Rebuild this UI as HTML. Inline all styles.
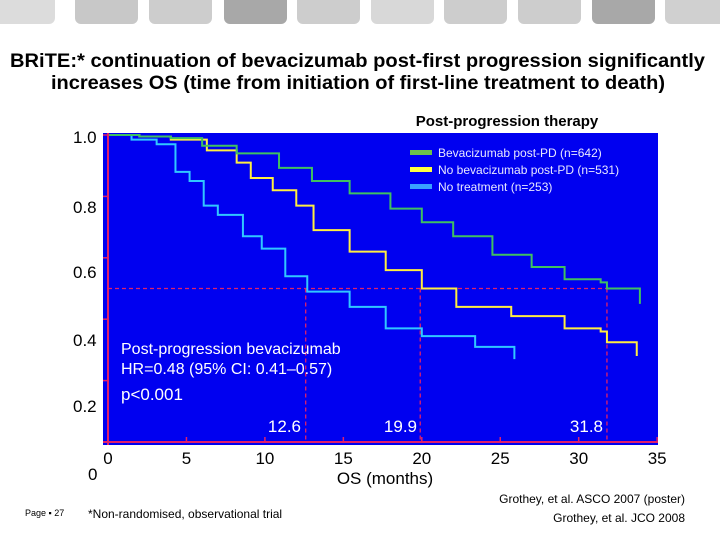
<!DOCTYPE html>
<html><head><meta charset="utf-8"><style>
body{margin:0;width:720px;height:540px;background:#fff;overflow:hidden;font-family:"Liberation Sans",sans-serif}
svg{display:block}
</style></head><body>
<svg id="c" width="720" height="540" viewBox="0 0 720 540" font-family="Liberation Sans, sans-serif">
<g id="tabs"></g>
<text x="10" y="67" font-size="19" font-weight="bold" textLength="695" lengthAdjust="spacingAndGlyphs">BRiTE:* continuation of bevacizumab post-first progression significantly</text>
<text x="51" y="89" font-size="19" font-weight="bold" textLength="614" lengthAdjust="spacingAndGlyphs">increases OS (time from initiation of first-line treatment to death)</text>
<text x="507" y="126" font-size="15" font-weight="bold" text-anchor="middle">Post-progression therapy</text>
<rect x="103" y="133" width="555" height="312" fill="#0000f0"/>
<g id="grid"></g>
<g id="series"></g>
<g id="axes"></g>
<g>
<rect x="410" y="150" width="22" height="5" fill="#6cc24a"/>
<text x="438" y="157" font-size="12" fill="#e8e8ff">Bevacizumab post-PD (n=642)</text>
<rect x="410" y="167" width="22" height="5" fill="#ffff40"/>
<text x="438" y="174" font-size="12" fill="#e8e8ff">No bevacizumab post-PD (n=531)</text>
<rect x="410" y="184" width="22" height="5" fill="#3aa0ff"/>
<text x="438" y="191" font-size="12" fill="#e8e8ff">No treatment (n=253)</text>
</g>
<g fill="#fff">
<text x="121" y="354" font-size="16">Post-progression bevacizumab</text>
<text x="121" y="374" font-size="16">HR=0.48 (95% CI: 0.41–0.57)</text>
<text x="121" y="400" font-size="17">p&lt;0.001</text>
</g>
<g fill="#fff" font-size="17" text-anchor="end">
<text x="301" y="432">12.6</text><text x="417" y="432">19.9</text><text x="603" y="432">31.8</text>
</g>
<g font-size="17">
<text x="73" y="143">1.0</text><text x="73" y="213">0.8</text><text x="73" y="278">0.6</text><text x="73" y="346">0.4</text><text x="73" y="412">0.2</text>
<text x="88" y="480">0</text>
</g>
<g id="xlabels" font-size="17" text-anchor="middle"></g>
<text x="385" y="484" font-size="17" text-anchor="middle">OS (months)</text>
<text x="25" y="516" font-size="9">Page ▪ 27</text>
<text x="88" y="518" font-size="12">*Non-randomised, observational trial</text>
<text x="685" y="503" font-size="12" text-anchor="end">Grothey, et al. ASCO 2007 (poster)</text>
<text x="685" y="522" font-size="12" text-anchor="end">Grothey, et al. JCO 2008</text>
</svg>
<script>
const xTicks=[0,5,10,15,20,25,30,35];
const yTicks=[0,0.2,0.4,0.6,0.8,1.0];
const medians=[12.6,19.9,31.8];
const bevMonths=[0,2,4,6,8.2,10.9,13,15.4,18,20,22,24.5,27,29.1,31.4,31.8,33,33.9];
const bevSurv=[1,0.995,0.99,0.965,0.94,0.893,0.85,0.81,0.76,0.716,0.67,0.61,0.57,0.53,0.52,0.5,0.5,0.45];
const nobevMonths=[0,2,4,6.3,8.2,9.1,10.5,12,13.1,15.4,17.7,20,22.2,25.7,29.1,31.4,31.8,33.7,33.7];
const nobevSurv=[1,0.995,0.985,0.95,0.91,0.86,0.82,0.77,0.69,0.62,0.56,0.5,0.44,0.41,0.37,0.36,0.325,0.325,0.28];
const notxMonths=[0,1.5,3.1,4.3,5.2,6.1,7,8.6,9.8,11.3,12.7,15.4,17.7,20,23.4,25.9];
const notxSurv=[1,0.985,0.97,0.88,0.85,0.77,0.74,0.67,0.63,0.54,0.49,0.44,0.37,0.345,0.31,0.27];
const X=m=>108+m*15.69, Y=s=>442-s*307;
const NS='http://www.w3.org/2000/svg';
function mk(t,a,p){const e=document.createElementNS(NS,t);for(const k in a)e.setAttribute(k,a[k]);p.appendChild(e);return e;}
const tabs=document.getElementById('tabs');
const tabX=[-8,75,149,224,297,371,444,518,592,665];
const tabC=['#dcdcdc','#c8c8c8','#cdcdcd','#a8a8a8','#cdcdcd','#d8d8d8','#cdcdcd','#cdcdcd','#a8a8a8','#d0d0d0'];
tabX.forEach((x,i)=>{const r=mk('rect',{x:x,y:-8,width:63,height:32,rx:6,fill:tabC[i]},tabs);

});
const g=document.getElementById('grid');
const hl=mk('line',{x1:X(0),y1:Y(0.5),x2:X(medians[2]),y2:Y(0.5),stroke:'#e0206a','stroke-width':1.3,'stroke-dasharray':'4,3'},g);


medians.forEach(m=>{const l=mk('line',{x1:X(m),y1:Y(0.5),x2:X(m),y2:Y(0),stroke:'#e0206a','stroke-width':1.3,'stroke-dasharray':'4,3'},g);

});
const s=document.getElementById('series');
function step(ms,ss,col,name){let d='M'+X(ms[0])+','+Y(ss[0]);
for(let i=1;i<ms.length;i++){d+=' H'+X(ms[i])+' V'+Y(ss[i]);}
const p=mk('path',{d:d,fill:'none',stroke:col,'stroke-width':2},s);

}
step(notxMonths,notxSurv,'#30c8ff','line-no-treatment');
step(nobevMonths,nobevSurv,'#ffee40','line-no-bevacizumab');
step(bevMonths,bevSurv,'#40c060','line-bevacizumab');
const a=document.getElementById('axes');
const ya=mk('line',{x1:108,y1:133,x2:108,y2:445,stroke:'#e0206a','stroke-width':2},a);


const xa=mk('line',{x1:103,y1:Y(0),x2:658,y2:Y(0),stroke:'#e0206a','stroke-width':2},a);


yTicks.forEach(t=>{const tk=mk('line',{x1:103,y1:Y(t),x2:109,y2:Y(t),stroke:'#e0206a','stroke-width':1.5},a);

});
const xl=document.getElementById('xlabels');
xTicks.forEach(t=>{const tk=mk('line',{x1:X(t),y1:Y(0),x2:X(t),y2:Y(0)-5,stroke:'#e0206a','stroke-width':1.5},a);


const tx=mk('text',{x:X(t),y:464},xl);tx.textContent=t;

});
</script>
</body></html>
